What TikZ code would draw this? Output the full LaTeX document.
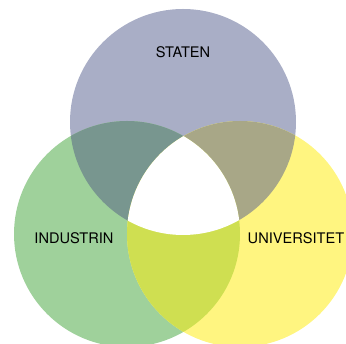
\documentclass[tikz,border=0pt]{standalone}
\usepackage{fontspec}
\setmainfont{TeX Gyre Heros}
\definecolor{cTop}{HTML}{A9AEC6}
\definecolor{cLeft}{HTML}{9FD19B}
\definecolor{cRight}{HTML}{FFF580}
\definecolor{cTL}{HTML}{78968F}
\definecolor{cTR}{HTML}{A8A787}
\definecolor{cLR}{HTML}{CFDF51}
\begin{document}
\begin{tikzpicture}[x=1pt,y=1pt,
  lbl/.style={font=\fontsize{14.6}{16}\selectfont, text=black}]
\useasboundingbox (0,0) rectangle (346,344);
\def\R{113}
\coordinate (T) at (183,222);
\coordinate (L) at (127,110);
\coordinate (Rt) at (240,110);
\begin{scope}
\clip (0,0) rectangle (346,344);
\fill[cTop] (T) circle (\R);
\fill[cLeft] (L) circle (\R);
\fill[cRight] (Rt) circle (\R);
\begin{scope}
\clip (T) circle (\R);
\fill[cTL] (L) circle (\R);
\fill[cTR] (Rt) circle (\R);
\end{scope}
\begin{scope}
\clip (L) circle (\R);
\fill[cLR] (Rt) circle (\R);
\clip (Rt) circle (\R);
\fill[white] (T) circle (\R);
\end{scope}
\end{scope}
\node[lbl] (staten) at (183,292) {STATEN};
\node[lbl] (ind) at (74,106) {INDUSTRIN};
\node[lbl] (uni) at (296,106) {UNIVERSITET};
\end{tikzpicture}
\end{document}
